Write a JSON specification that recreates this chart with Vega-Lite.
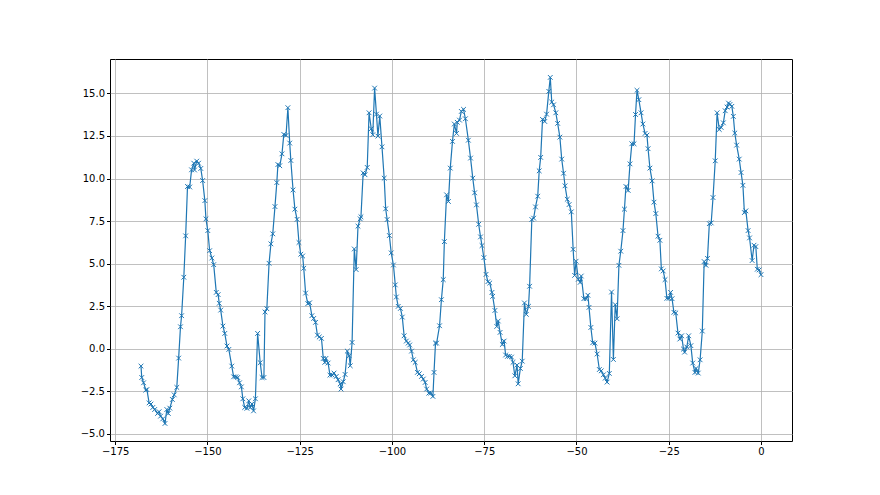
{
"$schema": "https://vega.github.io/schema/vega-lite/v6.json",
"width": 682, "height": 382,
"autosize": {"type": "none"},
"padding": {"left": 110, "top": 59, "right": 88, "bottom": 54},
"background": "white",
"config": {"view": {"stroke": "black", "strokeWidth": 1}, "font": "DejaVu Sans"},
"data": {"values": [
{"t":-168.0,"v":-1.02},{"t":-167.8,"v":-1.69},{"t":-167.3,"v":-2.0},{"t":-166.7,"v":-2.43},{"t":-166.4,"v":-2.4},{"t":-165.8,"v":-3.18},{"t":-165.3,"v":-3.25},{"t":-164.8,"v":-3.45},{"t":-164.3,"v":-3.57},{"t":-163.5,"v":-3.8},{"t":-163.1,"v":-3.7},{"t":-162.7,"v":-3.96},{"t":-162.1,"v":-4.12},{"t":-161.5,"v":-4.39},{"t":-161.0,"v":-3.57},{"t":-160.6,"v":-3.8},{"t":-160.2,"v":-3.49},{"t":-159.5,"v":-2.98},{"t":-159.0,"v":-2.71},{"t":-158.3,"v":-2.27},{"t":-157.8,"v":-0.55},{"t":-157.3,"v":1.29},{"t":-157.0,"v":1.94},{"t":-156.4,"v":4.2},{"t":-155.9,"v":6.63},{"t":-155.4,"v":9.53},{"t":-154.8,"v":9.5},{"t":-154.3,"v":10.51},{"t":-153.7,"v":10.9},{"t":-153.5,"v":10.5},{"t":-152.9,"v":11.02},{"t":-152.4,"v":10.9},{"t":-151.8,"v":10.59},{"t":-151.3,"v":9.88},{"t":-150.7,"v":8.7},{"t":-150.4,"v":7.63},{"t":-149.9,"v":6.94},{"t":-149.4,"v":5.76},{"t":-148.8,"v":5.33},{"t":-148.3,"v":4.94},
{"t":-147.6,"v":3.31},{"t":-147.1,"v":3.18},{"t":-146.8,"v":2.67},{"t":-146.4,"v":2.27},{"t":-145.8,"v":1.33},{"t":-145.3,"v":0.9},{"t":-144.7,"v":0.16},{"t":-144.2,"v":-0.04},{"t":-143.4,"v":-1.02},{"t":-142.9,"v":-1.65},{"t":-142.3,"v":-1.65},{"t":-141.8,"v":-1.69},{"t":-141.3,"v":-2.0},{"t":-140.8,"v":-2.24},{"t":-140.4,"v":-2.94},{"t":-139.9,"v":-3.45},{"t":-139.3,"v":-3.5},{"t":-138.8,"v":-3.06},{"t":-138.4,"v":-3.45},{"t":-137.9,"v":-3.25},{"t":-137.5,"v":-3.65},{"t":-137.0,"v":-2.94},{"t":-136.4,"v":0.9},{"t":-135.7,"v":-0.82},{"t":-135.2,"v":-1.69},{"t":-134.7,"v":-1.69},{"t":-134.4,"v":2.16},{"t":-133.9,"v":2.35},{"t":-133.3,"v":5.02},{"t":-132.8,"v":6.16},{"t":-132.3,"v":6.75},{"t":-131.7,"v":8.35},{"t":-131.2,"v":9.76},{"t":-130.9,"v":10.82},{"t":-130.4,"v":10.75},{"t":-129.8,"v":11.45},{"t":-129.3,"v":12.59},{"t":-128.7,"v":12.53},{"t":-128.2,"v":14.16},{"t":-127.7,"v":12.08},{"t":-127.4,"v":11.06},{"t":-126.8,"v":9.33},{"t":-126.3,"v":8.2},{"t":-125.7,"v":7.6},{"t":-125.2,"v":6.24},{"t":-124.7,"v":5.55},{"t":-124.2,"v":5.45},{"t":-123.9,"v":4.73},{"t":-123.4,"v":3.27},{"t":-122.8,"v":2.65},{"t":-122.3,"v":2.7},{"t":-121.7,"v":1.94},{"t":-121.2,"v":1.78},{"t":-120.7,"v":1.55},{"t":-120.2,"v":0.8},{"t":-119.7,"v":0.69},{"t":-119.1,"v":0.61},{"t":-118.6,"v":-0.57},{"t":-118.2,"v":-0.8},{"t":-117.9,"v":-0.57},{"t":-117.3,"v":-0.84},{"t":-116.8,"v":-1.55},{"t":-116.2,"v":-1.55},{"t":-115.7,"v":-1.43},{"t":-115.1,"v":-1.63},{"t":-114.6,"v":-1.82},{"t":-114.0,"v":-2.06},{"t":-113.8,"v":-2.37},{"t":-113.2,"v":-1.94},{"t":-112.7,"v":-1.51},{"t":-112.1,"v":-0.14},{"t":-111.6,"v":-0.41},{"t":-111.3,"v":-1.0},{"t":-110.8,"v":0.37},{"t":-110.2,"v":5.86},{"t":-109.7,"v":4.65},{"t":-109.2,"v":7.2},{"t":-108.6,"v":7.63},{"t":-108.4,"v":7.75},{"t":-107.8,"v":10.33},{"t":-107.3,"v":10.22},{"t":-106.7,"v":10.65},{"t":-106.2,"v":13.86},{"t":-105.6,"v":12.92},{"t":-105.2,"v":12.57},{"t":-104.7,"v":15.31},{"t":-104.2,"v":13.78},{"t":-103.8,"v":12.49},{"t":-103.3,"v":13.67},{"t":-102.7,"v":11.86},{"t":-102.1,"v":10.02},{"t":-101.7,"v":8.22},{"t":-101.3,"v":7.59},{"t":-100.7,"v":6.65},{"t":-100.2,"v":5.63},{"t":-99.6,"v":4.92},{"t":-99.1,"v":3.75},{"t":-98.8,"v":3.04},{"t":-98.3,"v":2.49},{"t":-97.7,"v":2.37},{"t":-97.2,"v":1.86},{"t":-96.7,"v":0.76},{"t":-96.1,"v":0.45},{"t":-95.6,"v":0.33},{"t":-95.2,"v":0.22},{"t":-94.7,"v":-0.14},{"t":-94.2,"v":-0.65},{"t":-93.7,"v":-0.8},{"t":-93.1,"v":-1.39},{"t":-92.6,"v":-1.47},{"t":-92.0,"v":-1.63},{"t":-91.5,"v":-1.78},{"t":-91.0,"v":-1.98},{"t":-90.6,"v":-2.37},{"t":-90.0,"v":-2.61},{"t":-89.5,"v":-2.6},{"t":-88.9,"v":-2.8},{"t":-88.6,"v":-1.39},{"t":-88.2,"v":0.33},{"t":-87.9,"v":0.33},{"t":-87.1,"v":1.35},{"t":-86.6,"v":2.88},{"t":-86.1,"v":4.06},{"t":-85.8,"v":6.29},{"t":-85.2,"v":9.04},{"t":-84.7,"v":8.65},{"t":-84.2,"v":10.61},{"t":-83.6,"v":12.18},{"t":-83.1,"v":13.2},{"t":-82.5,"v":12.65},{"t":-82.3,"v":13.3},{"t":-81.7,"v":13.43},{"t":-81.2,"v":13.94},{"t":-80.6,"v":14.06},{"t":-80.1,"v":13.51},{"t":-79.3,"v":12.25},{"t":-78.7,"v":11.2},{"t":-78.1,"v":10.02},{"t":-77.6,"v":9.16},{"t":-77.1,"v":8.45},{"t":-76.5,"v":7.31},{"t":-76.0,"v":6.57},{"t":-75.6,"v":6.06},{"t":-75.1,"v":5.35},{"t":-74.5,"v":4.37},{"t":-74.0,"v":3.94},{"t":-73.5,"v":3.86},{"t":-72.9,"v":3.31},{"t":-72.7,"v":3.08},{"t":-72.1,"v":2.25},{"t":-71.6,"v":1.31},{"t":-71.2,"v":1.63},{"t":-70.7,"v":0.96},{"t":-70.1,"v":0.25},{"t":-69.6,"v":0.45},{"t":-69.2,"v":-0.37},{"t":-68.7,"v":-0.45},{"t":-68.2,"v":-0.45},{"t":-67.6,"v":-0.49},{"t":-67.2,"v":-0.8},{"t":-66.7,"v":-1.59},{"t":-66.1,"v":-0.96},{"t":-65.8,"v":-2.06},{"t":-65.2,"v":-1.16},{"t":-64.7,"v":-0.73},{"t":-64.1,"v":2.69},{"t":-63.6,"v":2.02},{"t":-63.0,"v":2.49},{"t":-62.7,"v":3.67},{"t":-62.1,"v":7.59},{"t":-61.6,"v":7.67},{"t":-61.1,"v":8.33},{"t":-60.5,"v":8.96},{"t":-60.1,"v":10.45},{"t":-59.7,"v":11.24},{"t":-59.2,"v":13.47},{"t":-58.6,"v":13.35},{"t":-58.1,"v":13.78},{"t":-57.5,"v":15.12},{"t":-57.1,"v":15.94},{"t":-56.7,"v":14.49},{"t":-56.2,"v":14.33},{"t":-55.6,"v":13.86},{"t":-55.1,"v":13.24},{"t":-54.5,"v":12.43},{"t":-54.0,"v":11.14},{"t":-53.5,"v":10.31},{"t":-53.1,"v":9.57},{"t":-52.5,"v":8.78},{"t":-52.0,"v":8.47},{"t":-51.4,"v":8.04},{"t":-50.9,"v":5.84},{"t":-50.5,"v":4.31},{"t":-50.1,"v":5.14},{"t":-49.5,"v":4.08},{"t":-49.0,"v":3.9},{"t":-48.7,"v":4.27},{"t":-48.0,"v":2.94},{"t":-47.4,"v":2.94},{"t":-46.9,"v":3.14},{"t":-46.6,"v":2.43},{"t":-46.1,"v":1.25},{"t":-45.6,"v":0.35},{"t":-45.0,"v":0.33},{"t":-44.4,"v":-0.31},{"t":-43.8,"v":-1.22},{"t":-43.3,"v":-1.3},{"t":-42.7,"v":-1.53},{"t":-42.2,"v":-1.73},{"t":-41.7,"v":-1.96},{"t":-41.1,"v":-1.45},{"t":-40.5,"v":3.33},{"t":-40.0,"v":-0.63},{"t":-39.5,"v":2.59},{"t":-39.0,"v":1.76},{"t":-38.5,"v":4.9},{"t":-38.0,"v":5.73},{"t":-37.4,"v":6.94},{"t":-37.0,"v":8.2},{"t":-36.6,"v":9.53},{"t":-36.0,"v":9.3},{"t":-35.5,"v":10.86},{"t":-35.0,"v":12.04},{"t":-34.4,"v":12.04},{"t":-34.0,"v":13.76},{"t":-33.6,"v":15.18},{"t":-33.1,"v":14.63},{"t":-32.5,"v":13.86},{"t":-32.0,"v":13.2},{"t":-31.4,"v":12.65},{"t":-30.9,"v":12.55},{"t":-30.6,"v":11.75},{"t":-30.1,"v":10.61},{"t":-29.5,"v":9.86},{"t":-29.0,"v":8.61},{"t":-28.5,"v":7.94},{"t":-27.9,"v":6.61},{"t":-27.4,"v":6.37},{"t":-27.0,"v":4.69},{"t":-26.5,"v":4.57},{"t":-26.0,"v":4.06},{"t":-25.5,"v":2.96},{"t":-24.9,"v":2.96},{"t":-24.5,"v":3.31},{"t":-24.1,"v":2.94},{"t":-23.6,"v":2.14},{"t":-23.1,"v":2.1},{"t":-22.5,"v":0.92},{"t":-22.0,"v":0.57},{"t":-21.5,"v":0.76},{"t":-21.0,"v":-0.02},{"t":-20.7,"v":-0.2},{"t":-20.1,"v":0.1},{"t":-19.6,"v":0.76},{"t":-19.0,"v":0.18},{"t":-18.5,"v":-0.84},{"t":-17.9,"v":-1.39},{"t":-17.6,"v":-1.16},{"t":-17.0,"v":-1.43},{"t":-16.5,"v":-0.65},{"t":-15.9,"v":1.04},{"t":-15.4,"v":5.12},{"t":-14.9,"v":4.9},{"t":-14.5,"v":5.31},{"t":-14.0,"v":7.35},{"t":-13.5,"v":7.39},{"t":-13.0,"v":8.88},{"t":-12.4,"v":11.04},{"t":-11.9,"v":13.86},{"t":-11.3,"v":12.88},{"t":-10.8,"v":13.0},{"t":-10.2,"v":13.27},{"t":-9.7,"v":13.98},{"t":-9.2,"v":14.2},{"t":-8.8,"v":14.43},{"t":-8.4,"v":14.35},{"t":-7.9,"v":14.24},{"t":-7.5,"v":13.65},{"t":-7.1,"v":12.67},{"t":-6.6,"v":11.96},{"t":-5.9,"v":11.14},{"t":-5.4,"v":10.35},{"t":-4.9,"v":9.6},{"t":-4.5,"v":8.0},{"t":-4.1,"v":8.1},{"t":-3.5,"v":6.94},{"t":-3.1,"v":6.51},{"t":-2.4,"v":5.18},{"t":-1.9,"v":6.08},{"t":-1.4,"v":6.0},{"t":-1.0,"v":4.67},{"t":-0.5,"v":4.63},{"t":0.0,"v":4.35}
]},
"mark": {"type": "line", "color": "#1f77b4", "strokeWidth": 1.2, "clip": true,
  "point": {"shape": "M-1,-1L1,1M-1,1L1,-1", "filled": false, "size": 22, "color": "#1f77b4", "strokeWidth": 1}},
"encoding": {
  "x": {"field": "t", "type": "quantitative", "title": null,
    "scale": {"domain": [-176.4, 8.4], "nice": false, "zero": false},
    "axis": {"values": [-175,-150,-125,-100,-75,-50,-25,0], "format": "d", "grid": true, "gridColor": "#b0b0b0", "gridWidth": 0.8,
      "domain": false, "tickColor": "black", "tickSize": 3.5, "labelColor": "black", "labelFontSize": 10, "labelPadding": 2, "labelFont": "DejaVu Sans"}},
  "y": {"field": "v", "type": "quantitative", "title": null,
    "scale": {"domain": [-5.42, 17.02], "nice": false, "zero": false},
    "axis": {"values": [-5,-2.5,0,2.5,5,7.5,10,12.5,15], "format": ".1f", "grid": true, "gridColor": "#b0b0b0", "gridWidth": 0.8,
      "domain": false, "tickColor": "black", "tickSize": 3.5, "labelColor": "black", "labelFontSize": 10, "labelPadding": 2, "labelFont": "DejaVu Sans"}}
}
}
